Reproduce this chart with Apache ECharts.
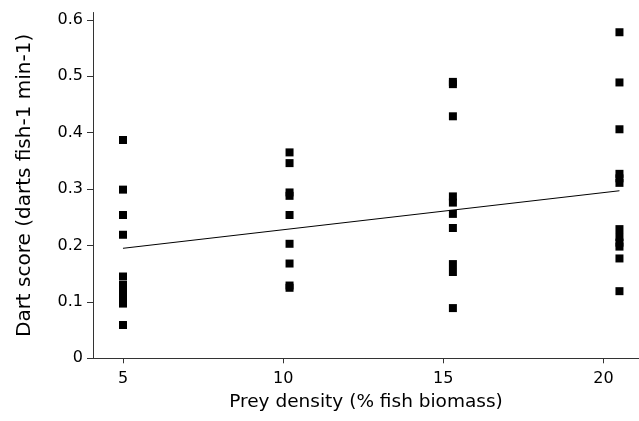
<!DOCTYPE html>
<html>
<head>
<meta charset="utf-8">
<script src="https://cdn.jsdelivr.net/npm/echarts@6/dist/echarts.min.js"></script>
<style>html,body{margin:0;padding:0;background:#fff}#c{width:639px;height:421px}</style>
</head>
<body>
<div id="c"></div>
<script>
const xTicks = [5, 10, 15, 20];
const yTicks = [0, 0.1, 0.2, 0.3, 0.4, 0.5, 0.6];
const density = [5, 10.2, 15.3, 20.5];
const scores5 = [0.387, 0.299, 0.254, 0.219, 0.145, 0.13, 0.12, 0.11, 0.097, 0.059];
const scores10 = [0.365, 0.346, 0.294, 0.288, 0.254, 0.203, 0.168, 0.129, 0.125];
const scores15 = [0.49, 0.486, 0.429, 0.287, 0.276, 0.256, 0.231, 0.167, 0.153, 0.089];
const scores20 = [0.578, 0.489, 0.406, 0.327, 0.319, 0.311, 0.229, 0.215, 0.205, 0.198, 0.177, 0.119];
const fitX = [5, 20.5];
const fitY = [0.195, 0.297];

const groups = [scores5, scores10, scores15, scores20];
const points = [];
groups.forEach((g, i) => g.forEach(v => points.push([density[i], v])));

const font = 'DejaVu Sans';
const xMin = 4.064, xMax = 21.11;
const chart = echarts.init(document.getElementById('c'));
chart.setOption({
  animation: false,
  grid: { left: 93, right: 0, top: 12.5, bottom: 62.7, containLabel: false },
  xAxis: [{
    type: 'value', min: xMin, max: xMax,
    name: 'Prey density (% fish biomass)', nameLocation: 'middle', nameGap: 33,
    nameTextStyle: { fontFamily: font, fontSize: 18.5, color: '#000' },
    axisLine: { show: true, onZero: false, lineStyle: { color: '#333', width: 1 } },
    axisTick: { show: true, length: 5, customValues: xTicks, lineStyle: { color: '#333' } },
    axisLabel: { customValues: xTicks, margin: 13, fontFamily: font, fontSize: 16, color: '#000' },
    splitLine: { show: false }
  }, {
    type: 'value', position: 'top', min: xMin, max: xMax,
    axisLine: { show: true, lineStyle: { color: '#333', width: 1 } },
    axisTick: { show: false }, axisLabel: { show: false }, splitLine: { show: false }
  }],
  yAxis: {
    type: 'value', min: 0, max: 0.613,
    name: 'Dart score (darts fish-1 min-1)', nameLocation: 'middle', nameGap: 58,
    nameTextStyle: { fontFamily: font, fontSize: 20, color: '#000' },
    axisLine: { show: true, onZero: false, lineStyle: { color: '#333', width: 1 } },
    axisTick: { show: true, length: 6, customValues: yTicks, lineStyle: { color: '#333' } },
    axisLabel: { customValues: yTicks, margin: 10, fontFamily: font, fontSize: 16, color: '#000',
      formatter: v => String(Math.round(v * 10) / 10) },
    splitLine: { show: false }
  },
  series: [{
    type: 'scatter', data: points, symbol: 'rect', symbolSize: 8,
    itemStyle: { color: '#000', opacity: 1 }, z: 3
  }, {
    type: 'line', data: fitX.map((x, i) => [x, fitY[i]]), symbol: 'none',
    lineStyle: { color: '#000', width: 1 }, z: 2
  }]
});
</script>
</body>
</html>
